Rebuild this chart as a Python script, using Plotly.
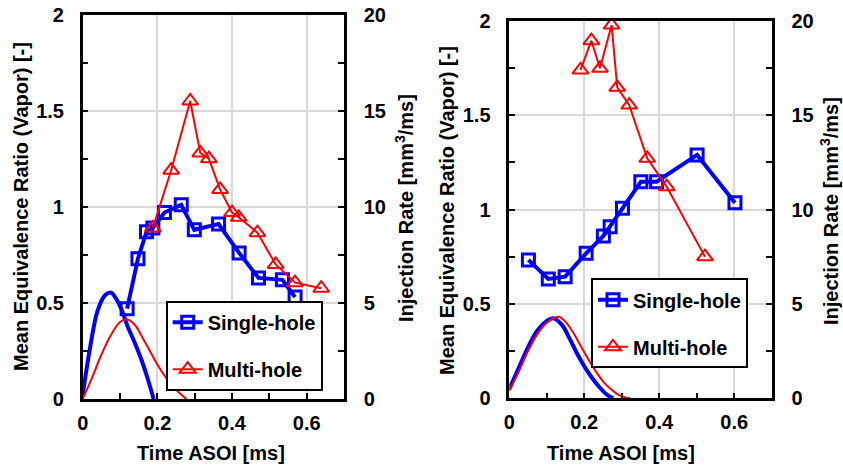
import plotly.graph_objects as go

# ---------------- data ----------------
# Left panel: mean equivalence ratio (vapor)
L_single_t = [0.119, 0.148, 0.171, 0.188, 0.219, 0.264, 0.299, 0.364, 0.419, 0.471, 0.535, 0.569]
L_single_phi = [0.47, 0.73, 0.87, 0.89, 0.97, 1.01, 0.88, 0.91, 0.76, 0.63, 0.62, 0.53]
L_multi_t = [0.188, 0.237, 0.288, 0.315, 0.338, 0.368, 0.400, 0.418, 0.468, 0.517, 0.569, 0.639]
L_multi_phi = [0.89, 1.19, 1.55, 1.28, 1.25, 1.09, 0.97, 0.945, 0.865, 0.70, 0.605, 0.576]
# Left panel: injection rate [mm3/ms]
L_inj_single_t = [0.0, 0.02, 0.04, 0.06, 0.076, 0.09, 0.105, 0.12, 0.14, 0.16, 0.175, 0.19]
L_inj_single_r = [0.2, 2.7, 4.6, 5.4, 5.53, 5.2, 4.6, 3.8, 2.9, 1.9, 1.0, 0.0]
L_inj_multi_t = [0.0, 0.025, 0.05, 0.075, 0.1, 0.118, 0.14, 0.16, 0.18, 0.2, 0.22, 0.24, 0.26, 0.278]
L_inj_multi_r = [0.0, 1.1, 2.3, 3.3, 4.0, 4.15, 3.85, 3.2, 2.5, 1.8, 1.2, 0.7, 0.3, 0.0]

# Right panel: mean equivalence ratio (vapor)
R_single_t = [0.051, 0.104, 0.149, 0.205, 0.251, 0.269, 0.302, 0.351, 0.393, 0.501, 0.602]
R_single_phi = [0.733, 0.632, 0.644, 0.768, 0.86, 0.909, 1.006, 1.147, 1.147, 1.289, 1.036]
R_multi_t = [0.190, 0.219, 0.242, 0.273, 0.288, 0.320, 0.368, 0.420, 0.522]
R_multi_phi = [1.739, 1.894, 1.748, 1.977, 1.647, 1.553, 1.271, 1.121, 0.75]
# Right panel: injection rate [mm3/ms]
R_inj_single_t = [0.0, 0.025, 0.05, 0.075, 0.1, 0.117, 0.14, 0.16, 0.18, 0.2, 0.22, 0.24, 0.26, 0.277]
R_inj_single_r = [0.5, 1.6, 2.7, 3.6, 4.1, 4.24, 3.9, 3.2, 2.4, 1.7, 1.1, 0.6, 0.2, 0.0]
R_inj_multi_t = [0.0, 0.025, 0.05, 0.075, 0.1, 0.131, 0.15, 0.17, 0.19, 0.21, 0.23, 0.25, 0.27, 0.29, 0.31, 0.322]
R_inj_multi_r = [0.4, 1.4, 2.5, 3.4, 4.0, 4.32, 4.05, 3.5, 2.8, 2.1, 1.45, 0.9, 0.5, 0.2, 0.05, 0.0]

x_ticks = [0, 0.2, 0.4, 0.6]
y_ticks = [0, 0.5, 1, 1.5, 2]
y2_ticks = [0, 5, 10, 15, 20]

BLUE = "#0000ff"
RED = "#ff0000"
FONT = "Liberation Sans, Arial, sans-serif"
FS = 20

W, H = 843, 470

def fx(px):
    return px / W

def fy(py):
    return 1 - py / H

fig = go.Figure()

panels = [
    dict(xa="x", ya="y", ya2="y2", legend="legend",
         inj=[(L_inj_single_t, L_inj_single_r, BLUE, 4), (L_inj_multi_t, L_inj_multi_r, RED, 2)],
         s=(L_single_t, L_single_phi), m=(L_multi_t, L_multi_phi)),
    dict(xa="x2", ya="y3", ya2="y4", legend="legend2",
         inj=[(R_inj_single_t, R_inj_single_r, BLUE, 4), (R_inj_multi_t, R_inj_multi_r, RED, 2)],
         s=(R_single_t, R_single_phi), m=(R_multi_t, R_multi_phi)),
]

for p in panels:
    for t, r, c, w in p["inj"]:
        fig.add_trace(go.Scatter(x=t, y=r, mode="lines", line=dict(color=c, width=w, shape="spline"),
                                 xaxis=p["xa"], yaxis=p["ya2"], showlegend=False, hoverinfo="skip"))
    fig.add_trace(go.Scatter(x=p["s"][0], y=p["s"][1], mode="lines+markers", name="Single-hole",
                             line=dict(color=BLUE, width=4),
                             marker=dict(symbol="square-open", size=12, color=BLUE, line=dict(width=3, color=BLUE)),
                             xaxis=p["xa"], yaxis=p["ya"], legend=p["legend"], legendgroup="a"))
    fig.add_trace(go.Scatter(x=p["m"][0], y=p["m"][1], mode="lines+markers", name="Multi-hole",
                             line=dict(color=RED, width=2),
                             marker=dict(symbol="triangle-up-open", size=14, color=RED, line=dict(width=2, color=RED)),
                             xaxis=p["xa"], yaxis=p["ya"], legend=p["legend"], legendgroup="b"))

tickfont = dict(family=FONT, size=FS, color="black", weight="bold")
GRID = "#d9d9d9"

def xaxis(domain, anchor):
    return dict(domain=domain, anchor=anchor, range=[0, 0.7], tickvals=x_ticks, ticktext=[f"{v:g}" for v in x_ticks],
                showline=True, linecolor="black", linewidth=2.5, mirror=True, automargin=False,
                showgrid=True, gridcolor=GRID, gridwidth=1.5, zeroline=False,
                ticks="inside", ticklen=6, tickwidth=2, tickcolor="black",
                minor=dict(dtick=0.1, tick0=0, ticks="inside", ticklen=6, tickwidth=2, tickcolor="black", showgrid=False),
                tickfont=tickfont, ticklabelstandoff=4, fixedrange=True)

def yaxis(domain, anchor):
    return dict(domain=domain, anchor=anchor, range=[0, 2], tickvals=y_ticks, ticktext=[f"{v:g}" for v in y_ticks],
                showline=True, linecolor="black", linewidth=2.5, automargin=False,
                showgrid=True, gridcolor=GRID, gridwidth=1.5, zeroline=False,
                ticks="inside", ticklen=6, tickwidth=2, tickcolor="black",
                minor=dict(dtick=0.25, tick0=0, ticks="inside", ticklen=6, tickwidth=2, tickcolor="black", showgrid=False),
                tickfont=tickfont, ticklabelstandoff=12, fixedrange=True)

def yaxis2(overlay, anchor):
    return dict(overlaying=overlay, anchor=anchor, side="right", range=[0, 20], tickvals=y2_ticks,
                ticktext=[f"{v:g}" for v in y2_ticks],
                showline=True, linecolor="black", linewidth=2.5, automargin=False,
                showgrid=False, zeroline=False,
                ticks="inside", ticklen=6, tickwidth=2, tickcolor="black",
                minor=dict(dtick=2.5, tick0=0, ticks="inside", ticklen=6, tickwidth=2, tickcolor="black", showgrid=False),
                tickfont=tickfont, ticklabelstandoff=13, fixedrange=True)

xL = [fx(82.7), fx(344)]
xR = [fx(509.3), fx(771.7)]
yL = [fy(399), fy(14.5)]
yR = [fy(398.3), fy(20.7)]

legend_common = dict(bgcolor="white", bordercolor="black", borderwidth=2,
                     font=dict(family=FONT, size=FS, color="black", weight="bold"),
                     tracegroupgap=18, xanchor="left", yanchor="top", itemwidth=30)

fig.update_layout(
    template="none",
    width=W, height=H, margin=dict(l=0, r=0, t=0, b=0, pad=0), autosize=False,
    paper_bgcolor="white", plot_bgcolor="white",
    font=dict(family=FONT, size=FS, color="black"),
    xaxis=xaxis(xL, "y"), yaxis=yaxis(yL, "x"), yaxis2=yaxis2("y", "x"),
    xaxis2=xaxis(xR, "y3"), yaxis3=yaxis(yR, "x2"), yaxis4=yaxis2("y3", "x2"),
    legend=dict(x=fx(165.7), y=fy(300.7), **legend_common),
    legend2=dict(x=fx(591), y=fy(278.3), **legend_common),
    showlegend=True,
)

titlefont = dict(family=FONT, size=FS, color="black", weight="bold")
annos = [
    ("Time ASOI [ms]", 211, 453, 0),
    ("Time ASOI [ms]", 621, 453, 0),
    ("Mean Equivalence Ratio (Vapor) [-]", 21, 207, -90),
    ("Injection Rate [mm<sup>3</sup>/ms]", 404, 208, -90),
    ("Mean Equivalence Ratio (Vapor) [-]", 447, 210, -90),
    ("Injection Rate [mm<sup>3</sup>/ms]", 830, 211, -90),
]
for text, px, py, ang in annos:
    fig.add_annotation(text=text, x=fx(px), y=fy(py), xref="paper", yref="paper", showarrow=False,
                       textangle=ang, font=titlefont, xanchor="center", yanchor="middle")

fig.write_html("out.html", config={"responsive": False},
               post_script="document.body.style.margin='0';document.body.style.overflow='hidden';")
